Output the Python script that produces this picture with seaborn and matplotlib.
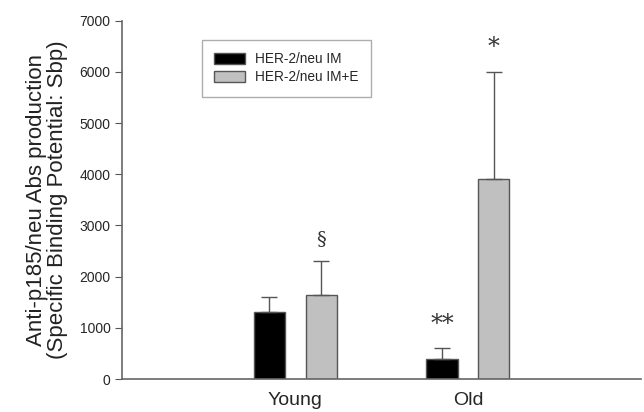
import numpy as np
import pandas as pd
import seaborn as sns
import matplotlib.pyplot as plt

# data
groups = ["Young", "Old"]
treatments = ["HER-2/neu IM", "HER-2/neu IM+E"]
im_mean = [1300, 400]
im_err = [300, 200]
ime_mean = [1650, 3900]
ime_err = [650, 2100]
marks_im = ["", "**"]
marks_ime = ["§", "*"]

df = pd.DataFrame({
    "group": groups * 2,
    "treatment": [treatments[0]] * 2 + [treatments[1]] * 2,
    "value": im_mean + ime_mean,
})
errs = im_err + ime_err
marks = marks_im + marks_ime

sns.set_style("white")
plt.rcParams["font.family"] = ["Liberation Sans", "DejaVu Sans"]

fig, ax = plt.subplots(figsize=(6.44, 4.12), dpi=100)
sns.barplot(data=df, x="group", y="value", hue="treatment", order=groups,
            hue_order=treatments, palette=["black", "#c0c0c0"],
            width=0.6, gap=0.4, errorbar=None, edgecolor="#555555",
            linewidth=1.0, ax=ax)

# upper-only error bars and significance marks
for i, p in enumerate(ax.patches[:4]):
    xc = p.get_x() + p.get_width() / 2
    h = p.get_height()
    ax.errorbar(xc, h, yerr=[[0], [errs[i]]], fmt="none", ecolor="#555555",
                elinewidth=1.0, capsize=6, capthick=1.0)
    if marks[i]:
        ax.text(xc, h + errs[i] + 250, marks[i], ha="center", va="bottom",
                fontsize=17 if "*" in marks[i] else 14, family="DejaVu Serif",
                color="#333333")

ax.set_xlim(-1.0, 2.0)
ax.set_ylim(0, 7000)
ax.set_yticks(range(0, 7001, 1000))
ax.set_xlabel("")
ax.set_ylabel("Anti-p185/neu Abs production\n(Specific Binding Potential: Sbp)",
              fontsize=16, color="#222222", labelpad=8, linespacing=1.0)
ax.tick_params(axis="y", length=5, color="#555555", labelsize=10, direction="out", left=True)
ax.tick_params(axis="x", length=0, labelsize=14, pad=9)

for s in ["top", "right"]:
    ax.spines[s].set_visible(False)
for s in ["left", "bottom"]:
    ax.spines[s].set_color("#666666")
    ax.spines[s].set_linewidth(1.2)

leg = ax.legend(loc="upper left", bbox_to_anchor=(0.14, 0.965), frameon=True,
                fancybox=False, edgecolor="#999999", fontsize=9.8,
                handlelength=2.3, handleheight=0.8, borderpad=0.9,
                handletextpad=0.7, labelspacing=0.3)
leg.set_title(None)

fig.subplots_adjust(left=0.19, right=0.995, top=0.95, bottom=0.08)
fig.savefig("out.png", dpi=100)
